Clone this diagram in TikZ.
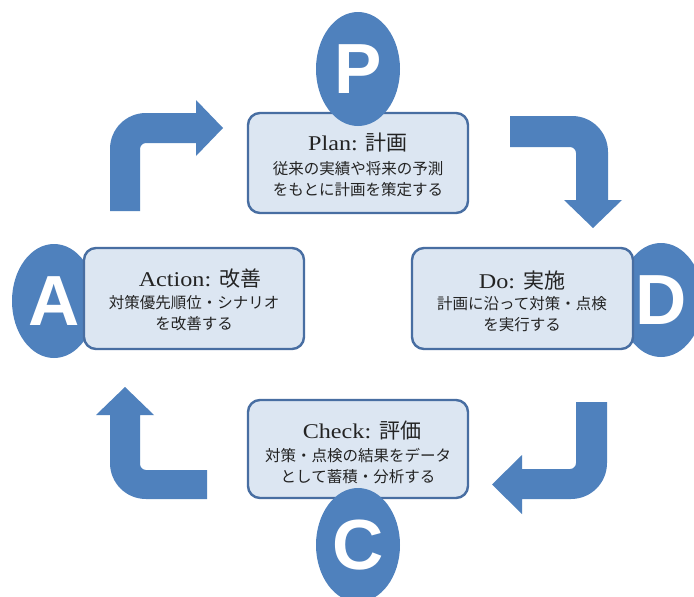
\documentclass[tikz,border=0pt]{standalone}
\usepackage{fontspec}
\setmainfont{Liberation Serif}
\newfontfamily\jp{Noto Sans CJK JP}
\newfontfamily\titlelat[FakeStretch=1.15]{Liberation Serif}
\newfontfamily\letterfont{Liberation Sans}
\usetikzlibrary{shapes.geometric}
\definecolor{pdcablue}{RGB}{79,129,189}
\definecolor{boxfill}{RGB}{220,230,242}
\definecolor{boxline}{RGB}{72,110,162}
\definecolor{txt}{RGB}{35,35,35}
\begin{document}
\begin{tikzpicture}[x=1pt,y=-1pt,
  stagebox/.style={draw=boxline, line width=2.4pt, fill=boxfill, rounded corners=12pt, inner sep=0pt},
  badge/.style={ellipse, fill=pdcablue, minimum width=84pt, minimum height=114pt, inner sep=0pt,
    text=white, font=\letterfont\bfseries\fontsize{71}{71}\selectfont},
  stagetitle/.style={inner sep=0pt, text=txt, font=\fontsize{21}{24}\selectfont},
  stagebody/.style={inner sep=0pt, align=center, text=txt, font=\jp\fontsize{15.5}{21.5}\selectfont},
  turnarrow/.style={fill=pdcablue}]
\clip (0,0) rectangle (694,597);
\fill[white] (0,0) rectangle (694,597);

% side badges (behind boxes)
\node[badge] (A) at (54,301) {A};
\node[badge] (D) at (661,300) {D};

% stage boxes
\node[stagebox, minimum width=220pt, minimum height=100pt] (planbox) at (358,163) {};
\node[stagebox, minimum width=220pt, minimum height=101pt] (actbox) at (194,298.5) {};
\node[stagebox, minimum width=221pt, minimum height=101pt] (dobox) at (522.5,298.5) {};
\node[stagebox, minimum width=220pt, minimum height=98pt] (checkbox) at (358,449) {};

% top / bottom badges (over boxes)
\node[badge] (P) at (358,69) {P};
\node[badge] (C) at (358,545) {C};

% texts
\node[stagetitle] (plant) at (358,143) {{\titlelat Plan:}\hspace{8pt}{\jp 計画}};
\node[stagebody] (planb) at (358,179) {従来の実績や将来の予測\\をもとに計画を策定する};

\node[stagetitle] (actt) at (200,279) {{\titlelat Action:}\hspace{8pt}{\jp 改善}};
\node[stagebody] (actb) at (194,313) {対策優先順位・シナリオ\\を改善する};

\node[stagetitle] (dot) at (522,281) {{\titlelat Do:}\hspace{8pt}{\jp 実施}};
\node[stagebody] (dob) at (522,314) {計画に沿って対策・点検\\を実行する};

\node[stagetitle] (checkt) at (362,431) {{\titlelat Check:}\hspace{8pt}{\jp 評価}};
\node[stagebody] (checkb) at (358,466) {対策・点検の結果をデータ\\として蓄積・分析する};

% bent arrows
\fill[turnarrow] (110,211) -- (110,149) .. controls (110,129) and (126,113) .. (146,113)
  -- (196,113) -- (196,100) -- (223,128) -- (196,156) -- (196,143) -- (146,143)
  .. controls (142.7,143) and (140,145.7) .. (140,149) -- (140,211) -- cycle;

\fill[turnarrow] (510,116) -- (572,116) .. controls (592,116) and (608,132) .. (608,152)
  -- (608,200) -- (622,200) -- (593,228) -- (564,200) -- (576,200) -- (576,153)
  .. controls (576,149.7) and (573.3,147) .. (570,147) -- (510,147) -- cycle;

\fill[turnarrow] (607,402) -- (607,463) .. controls (607,483) and (591,499) .. (571,499)
  -- (522,499) -- (522,514) -- (492,484.5) -- (522,455) -- (522,469) -- (570,469)
  .. controls (573.3,469) and (576,466.3) .. (576,463) -- (576,402) -- cycle;

\fill[turnarrow] (207,499) -- (146,499) .. controls (126,499) and (110,483) .. (110,463)
  -- (110,415) -- (96,415) -- (125,387) -- (154,415) -- (140,415) -- (140,464)
  .. controls (140,467.3) and (142.7,470) .. (146,470) -- (207,470) -- cycle;
\end{tikzpicture}
\end{document}
